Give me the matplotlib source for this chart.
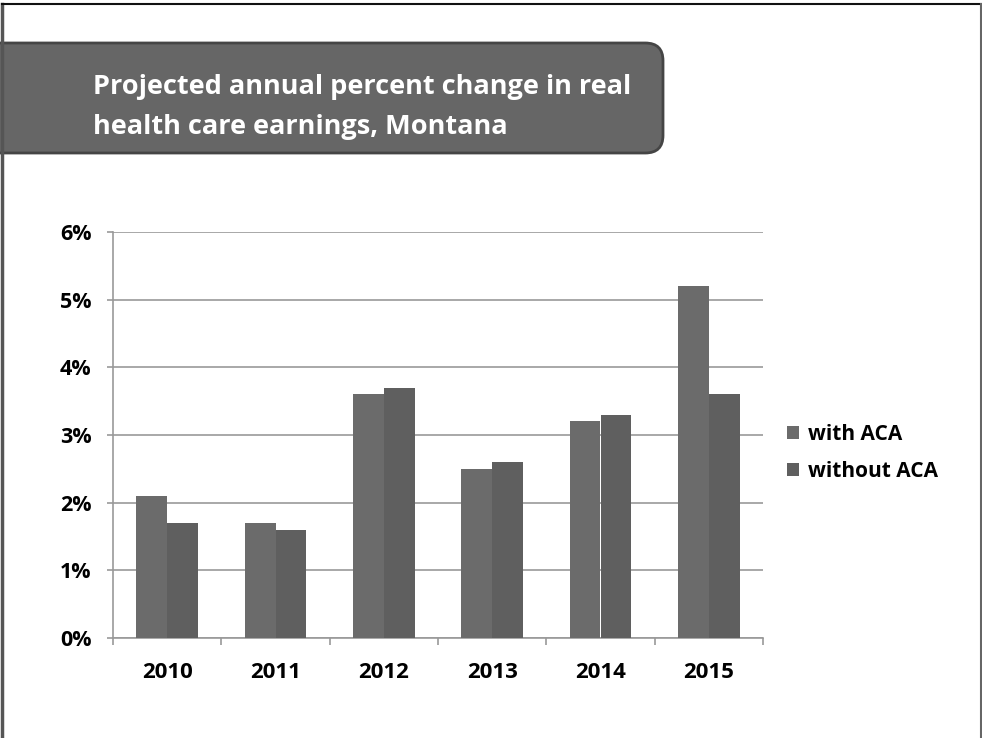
import matplotlib.pyplot as plt
import matplotlib.patches as patches
import numpy as np
from matplotlib.ticker import PercentFormatter

years = ['2010', '2011', '2012', '2013', '2014', '2015']
with_aca = [2.1, 1.7, 3.6, 2.5, 3.2, 5.2]
without_aca = [1.7, 1.6, 3.7, 2.6, 3.3, 3.6]
series_names = ['with ACA', 'without ACA']

plt.rcParams['font.family'] = ['Open Sans', 'DejaVu Sans']

fig = plt.figure(figsize=(9.82, 7.38), dpi=100)
W, H = 982, 738

# Rahmen der Folie
fig.add_artist(plt.Line2D([2 / W, 2 / W], [0, 1 - 4 / H], color='#555555', lw=2.5, transform=fig.transFigure))
fig.add_artist(plt.Line2D([2 / W, 981 / W], [1 - 4 / H, 1 - 4 / H], color='#111111', lw=1.5, transform=fig.transFigure))
fig.add_artist(plt.Line2D([981 / W, 981 / W], [0, 1 - 4 / H], color='#666666', lw=1.5, transform=fig.transFigure))

# Titelbox
box = patches.FancyBboxPatch((-20 / W, 1 - 153 / H), 683 / W, 110 / H,
                             boxstyle='round,pad=0,rounding_size=0.018',
                             transform=fig.transFigure, facecolor='#666666',
                             edgecolor='#454545', lw=2, mutation_aspect=W / H)
fig.add_artist(box)
fig.text(93 / W, 1 - 107 / H, 'Projected annual percent change in real\nhealth care earnings, Montana',
         color='white', fontsize=19.5, fontweight='bold', va='center', ha='left', linespacing=1.75)

ax = fig.add_axes([113 / W, 1 - 638 / H, 650 / W, 406 / H])
x = np.arange(len(years))
bw = 0.286
ax.bar(x - bw / 2, with_aca, bw, color='#6b6b6b', label=series_names[0], zorder=3)
ax.bar(x + bw / 2, without_aca, bw, color='#5f5f5f', label=series_names[1], zorder=3)

ax.set_xlim(-0.5, len(years) - 0.5)
ax.set_ylim(0, 6)
ax.set_yticks(range(0, 7))
ax.yaxis.set_major_formatter(PercentFormatter(decimals=0))
ax.set_xticks(x)
ax.set_xticklabels(years)
ax.set_xticks(np.arange(-0.5, len(years)), minor=True)
ax.tick_params(axis='x', which='major', length=0, pad=17)
ax.tick_params(axis='x', which='minor', length=5, color='#999999', width=1.2)
ax.tick_params(axis='y', length=4.5, color='#999999', width=1.2, pad=11)
for lab in ax.get_xticklabels():
    lab.set_fontweight('bold')
    lab.set_fontsize(16)
for lab in ax.get_yticklabels():
    lab.set_fontweight('bold')
    lab.set_fontsize(15.5)
ax.grid(axis='y', color='#999999', lw=1.2, zorder=0)
for s in ['top', 'right']:
    ax.spines[s].set_visible(False)
ax.spines['left'].set_color('#999999')
ax.spines['bottom'].set_color('#999999')
ax.spines['left'].set_linewidth(1.2)
ax.spines['bottom'].set_linewidth(1.2)

leg = fig.legend(loc='center left', bbox_to_anchor=(768 / W, 1 - 453 / H), frameon=False,
                 handlelength=0.6, handleheight=0.6, handletextpad=0.4, labelspacing=0.75,
                 prop={'weight': 'bold', 'size': 15})

fig.savefig('out.png', dpi=100)
